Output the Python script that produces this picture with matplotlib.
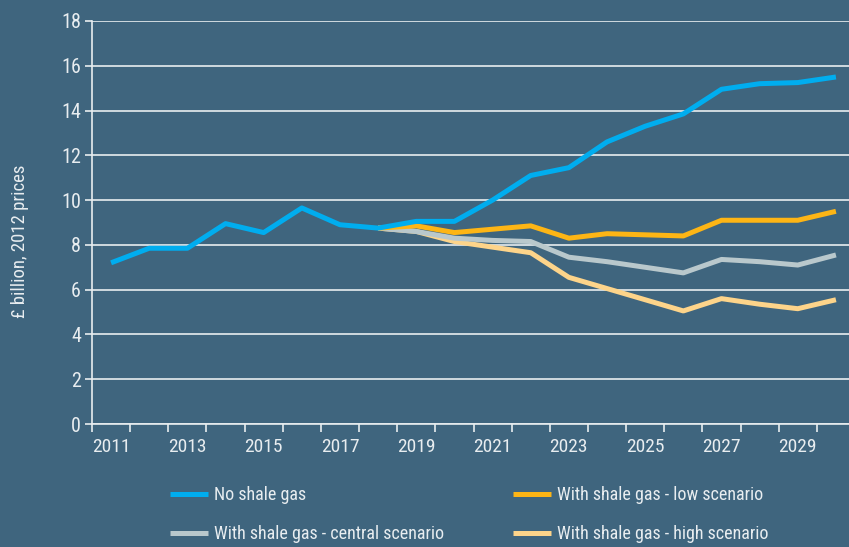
import matplotlib
matplotlib.use("Agg")
import matplotlib.pyplot as plt
from matplotlib import font_manager

# pick a narrow sans if one is installed
_names = {f.name for f in font_manager.fontManager.ttflist}
for _fam in ["Liberation Sans Narrow", "Roboto Condensed", "Roboto", "DejaVu Sans"]:
    if _fam in _names:
        plt.rcParams["font.family"] = [_fam, "DejaVu Sans"]
        break

years = list(range(2011, 2031))
no_shale = [7.2, 7.85, 7.85, 8.95, 8.55, 9.65, 8.9, 8.75, 9.05, 9.05,
            10.0, 11.1, 11.45, 12.6, 13.3, 13.85, 14.95, 15.2, 15.25, 15.5]
# scenarios split off the baseline from 2018
scen_years = years[7:]
low = [8.75, 8.85, 8.55, 8.7, 8.85, 8.3, 8.5, 8.45, 8.4, 9.1, 9.1, 9.1, 9.5]
central = [8.75, 8.6, 8.3, 8.2, 8.15, 7.45, 7.25, 7.0, 6.75, 7.35, 7.25, 7.1, 7.55]
high = [8.75, 8.6, 8.15, 7.9, 7.65, 6.55, 6.05, 5.55, 5.05, 5.6, 5.35, 5.15, 5.55]

BG = "#3f657e"
FG = "#e8edf0"
c_none, c_low, c_central, c_high = "#00adef", "#fdb515", "#b9c8cc", "#fdd48a"

fig = plt.figure(figsize=(8.49, 5.47), dpi=100, facecolor=BG)
# axes run slightly past the right edge of the figure
ax = fig.add_axes([92 / 849, 1 - 424 / 547, 763 / 849, 403 / 547], facecolor=BG)

pos = {y: i for i, y in enumerate(years)}
sx = [pos[y] for y in scen_years]
ax.plot(sx, high, color=c_high, lw=3.6, solid_capstyle="butt", label="With shale gas - high scenario", zorder=3)
ax.plot(sx, central, color=c_central, lw=3.6, solid_capstyle="butt", label="With shale gas - central scenario", zorder=4)
ax.plot(sx, low, color=c_low, lw=3.6, solid_capstyle="butt", label="With shale gas - low scenario", zorder=5)
ax.plot(range(len(years)), no_shale, color=c_none, lw=3.6, solid_capstyle="butt", label="No shale gas", zorder=6)

ax.set_ylim(0, 18)
ax.set_yticks(range(0, 19, 2))
ax.yaxis.grid(True, color=FG, lw=1.2)
ax.set_axisbelow(True)

ax.set_xlim(-0.5, len(years) - 0.5)
ax.set_xticks([i - 0.5 for i in range(len(years) + 1)])
ax.set_xticklabels([])
ax.set_xticks(range(0, len(years), 2), minor=True)
ax.set_xticklabels([str(y) for y in years[::2]], minor=True)
ax.tick_params(axis="x", which="major", length=6, width=1.2, color=FG)
ax.tick_params(axis="x", which="minor", length=0, pad=10, labelsize=14, labelcolor=FG)
ax.tick_params(axis="y", length=5, width=1.2, color=FG, pad=3, labelsize=14.5, labelcolor=FG)

for s in ["top", "right"]:
    ax.spines[s].set_visible(False)
for s in ["left", "bottom"]:
    ax.spines[s].set_color(FG)
    ax.spines[s].set_linewidth(1.2)

fig.text(20 / 849, 1 - 241 / 547, "£ billion, 2012 prices", rotation=90,
         ha="center", va="center", color=FG, fontsize=13.5)

h, l = ax.get_legend_handles_labels()
order = [3, 1, 2, 0]
leg = fig.legend([h[i] for i in order], [l[i] for i in order], ncol=2,
                 loc="upper left", bbox_to_anchor=(154 / 849, 1 - 470 / 547),
                 frameon=False, fontsize=13, labelcolor=FG,
                 handlelength=2.1, handletextpad=0.33, columnspacing=3.8,
                 labelspacing=1.15)

fig.savefig("out.png", dpi=100, facecolor=BG)
